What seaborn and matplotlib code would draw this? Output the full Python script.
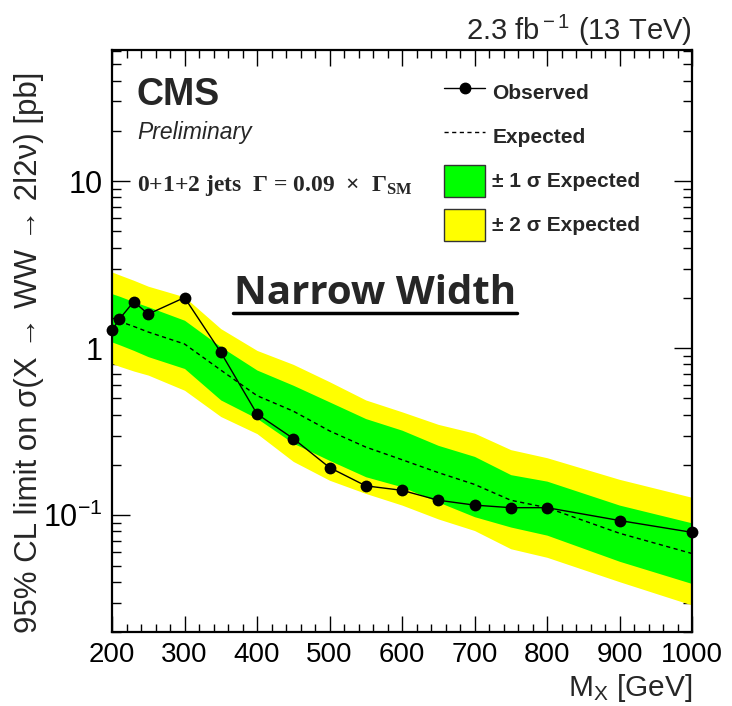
import numpy as np
import pandas as pd
import matplotlib
matplotlib.use("Agg")
import matplotlib.pyplot as plt
import seaborn as sns
from matplotlib.lines import Line2D
from matplotlib.patches import Patch
from matplotlib.ticker import FixedLocator, FixedFormatter, LogLocator, NullFormatter, MultipleLocator

# ---- data ----
mass = [200, 210, 230, 250, 300, 350, 400, 450, 500, 550, 600, 650, 700, 750, 800, 900, 1000]
observed = [1.28, 1.49, 1.90, 1.60, 2.01, 0.946, 0.404, 0.288, 0.193, 0.150, 0.141, 0.123, 0.115, 0.111, 0.111, 0.093, 0.079]
expected = [1.52, 1.45, 1.35, 1.25, 1.06, 0.74, 0.52, 0.42, 0.32, 0.256, 0.215, 0.18, 0.153, 0.123, 0.111, 0.078, 0.059]
two_sigma_hi = [2.86, 2.75, 2.55, 2.35, 2.03, 1.31, 0.97, 0.80, 0.63, 0.49, 0.416, 0.35, 0.31, 0.247, 0.221, 0.164, 0.128]
one_sigma_hi = [2.12, 2.05, 1.90, 1.77, 1.47, 1.02, 0.74, 0.60, 0.477, 0.379, 0.323, 0.262, 0.225, 0.175, 0.160, 0.115, 0.090]
one_sigma_lo = [1.09, 1.05, 0.97, 0.89, 0.756, 0.49, 0.38, 0.27, 0.213, 0.17, 0.148, 0.12, 0.098, 0.085, 0.076, 0.053, 0.039]
two_sigma_lo = [0.81, 0.78, 0.73, 0.69, 0.56, 0.39, 0.308, 0.21, 0.162, 0.135, 0.115, 0.095, 0.081, 0.063, 0.056, 0.040, 0.029]
x_ticks = [200, 300, 400, 500, 600, 700, 800, 900, 1000]
y_ticks = [0.1, 1, 10]
y_tick_labels = [r"$10^{-1}$", "1", "10"]

df = pd.DataFrame({"mass": mass, "observed": observed, "expected": expected,
                   "y2_hi": two_sigma_hi, "y1_hi": one_sigma_hi,
                   "y1_lo": one_sigma_lo, "y2_lo": two_sigma_lo})

sns.set_style("white")
plt.rcParams["font.family"] = ["Liberation Sans", "DejaVu Sans"]
plt.rcParams["mathtext.fontset"] = "custom"
plt.rcParams["mathtext.rm"] = "Liberation Sans"
plt.rcParams["mathtext.it"] = "Liberation Sans:italic"
plt.rcParams["mathtext.bf"] = "Liberation Serif:bold"

GREEN = "#00ff00"
YELLOW = "#ffff00"

fig = plt.figure(figsize=(7.32, 7.06), dpi=100)
ax = fig.add_axes([112/732, 74/706, 580/732, 582/706])

ax.fill_between(df["mass"], df["y2_lo"], df["y2_hi"], color=YELLOW, lw=0, zorder=1)
ax.fill_between(df["mass"], df["y1_lo"], df["y1_hi"], color=GREEN, lw=0, zorder=2)
sns.lineplot(data=df, x="mass", y="expected", ax=ax, color="black", lw=1.0,
             linestyle=(0, (3, 2.5)), zorder=3)
sns.lineplot(data=df, x="mass", y="observed", ax=ax, color="black", lw=1.0,
             marker="o", markersize=8.5, markeredgewidth=0, zorder=5, clip_on=False)

ax.set_yscale("log")
ax.set_xlim(200, 1000)
ax.set_ylim(0.02, 61)

ax.xaxis.set_major_locator(FixedLocator(x_ticks))
ax.xaxis.set_minor_locator(MultipleLocator(20))
ax.yaxis.set_major_locator(FixedLocator(y_ticks))
ax.yaxis.set_major_formatter(FixedFormatter(y_tick_labels))
ax.yaxis.set_minor_locator(LogLocator(base=10, subs=np.arange(2, 10)))
ax.yaxis.set_minor_formatter(NullFormatter())

ax.tick_params(axis="both", which="both", direction="in", top=True, right=True,
               bottom=True, left=True, colors="black")
ax.tick_params(axis="x", which="major", length=11.5, width=1.0, labelsize=20, pad=7)
ax.tick_params(axis="x", which="minor", length=5.8, width=1.0)
ax.tick_params(axis="y", which="major", length=13, width=1.0, labelsize=22, pad=7)
ax.tick_params(axis="y", which="minor", length=6.5, width=1.0)
for s in ax.spines.values():
    s.set_linewidth(1.6)
    s.set_color("black")
    s.set_zorder(6)

ax.set_xlabel("")
ax.set_ylabel("")
fig.text(692/732, 1 - 688/706, r"M$_{\rm X}$ [GeV]", ha="right", va="center", fontsize=21.5)
fig.text(29/732, 1 - 352/706, "95% CL limit on σ(X → WW → 2l2ν) [pb]", rotation=90,
         ha="center", va="center", fontsize=22.5)
fig.text(692/732, 1 - 30/706, r"2.3 fb$^{\rm -1}$ (13 TeV)", ha="right", va="center", fontsize=21)

fig.text(136/732, 1 - 95/706, "CMS", ha="left", va="center", fontsize=27, fontweight="bold")
fig.text(137/732, 1 - 132/706, "Preliminary", ha="left", va="center", fontsize=16.5, fontstyle="italic")
fig.text(137/732, 1 - 186/706, r"0+1+2 jets  Γ = 0.09  ×  Γ$_{\mathbf{SM}}$", ha="left", va="center",
         fontsize=17, fontweight="bold", family=["Liberation Serif", "DejaVu Serif"])

fig.text(375/732, 1 - 293/706, "Narrow Width", ha="center", va="center", fontsize=29,
         fontweight="bold", family=["Open Sans", "DejaVu Sans"])
fig.add_artist(Line2D([233/732, 517/732], [1 - 313/706, 1 - 313/706], color="black", lw=2.5,
                      transform=fig.transFigure))

handles = [
    Line2D([], [], color="black", lw=1.0, marker="o", markersize=7.5),
    Line2D([], [], color="black", lw=1.0, linestyle=(0, (3, 2.5))),
    Patch(facecolor=GREEN, edgecolor="#333333", lw=1.0),
    Patch(facecolor=YELLOW, edgecolor="#333333", lw=1.0),
]
labels = ["Observed", "Expected", "± 1 σ Expected", "± 2 σ Expected"]
leg = fig.legend(handles, labels, loc="upper left", bbox_to_anchor=(434/732, 1 - 66/706),
                 frameon=False, prop={"size": 15, "weight": "bold"},
                 handlelength=1.95, handleheight=2.0, labelspacing=0.57, handletextpad=0.35,
                 borderpad=0)

fig.savefig("out.png", dpi=100)
